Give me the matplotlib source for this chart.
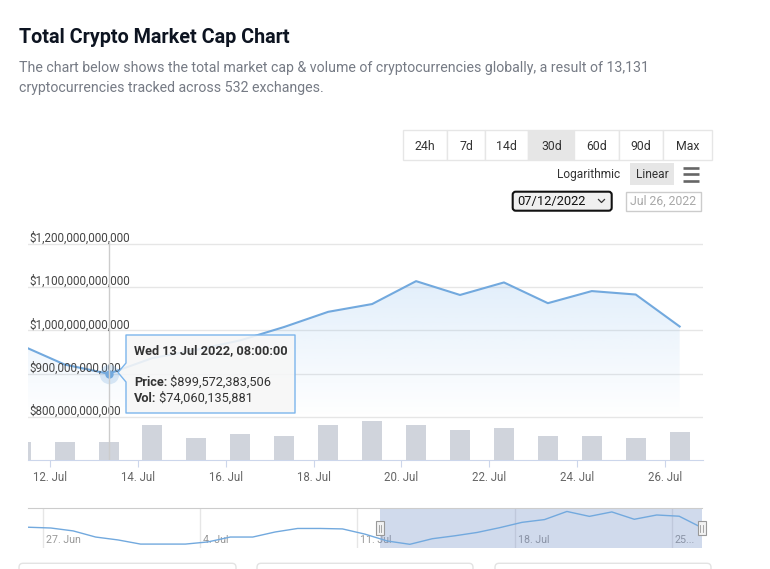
import numpy as np
import pandas as pd
import matplotlib
matplotlib.use('Agg')
import matplotlib.pyplot as plt
import matplotlib.dates as mdates
from matplotlib.colors import to_rgb
from matplotlib.patches import FancyBboxPatch, Rectangle, Polygon
from matplotlib import transforms

plt.rcParams['font.family'] = ['Roboto', 'DejaVu Sans']

# --- data (USD billions) ---
dates = pd.date_range('2022-07-11 08:00', periods=16, freq='D')
price = [966, 921, 899.572383506, 936, 955, 977, 1008, 1043, 1061, 1114,
         1082, 1111, 1063, 1091, 1083, 1009]
volume = [74, 74, 74.060135881, 143, 89, 106, 97, 143, 157, 142,
          123, 128, 97, 97, 89, 115]
nav_dates = pd.date_range('2022-06-26 08:00', periods=31, freq='D')
nav_early = [1011, 1006, 987, 947, 928, 901, 901, 901, 915, 947,
             947, 980, 1003, 1003, 1000]
y_ticks = [800, 900, 1000, 1100, 1200]
x_ticks = pd.date_range('2022-07-12', '2022-07-26', freq='2D')
nav_ticks = pd.date_range('2022-06-27', '2022-07-25', freq='7D')
nav_labels = ['27. Jun', '4. Jul', '11. Jul', '18. Jul', '25...']
ranges = ['24h', '7d', '14d', '30d', '60d', '90d', 'Max']
active_range = '30d'
hover = 2  # Wed 13 Jul
sel_start = pd.Timestamp('2022-07-12')

LINE = '#72a9de'
W, H = 770, 569


def rect(l, t, r, b):
    return [l / W, 1 - b / H, (r - l) / W, (b - t) / H]


fig = plt.figure(figsize=(W / 100, H / 100), dpi=100)

# --- main price / volume chart ---
x = mdates.date2num(dates)
ax = fig.add_axes(rect(28, 242, 703, 460))
ax.plot(x, price, color=LINE, lw=1.5, zorder=3, solid_joinstyle='round')
fill = ax.fill_between(x, price, 800, color='none', lw=0)
grad = np.zeros((100, 1, 4))
grad[..., :3] = to_rgb('#7cb5ec')
grad[:, 0, 3] = np.linspace(0.22, 0.0, 100)
im = ax.imshow(grad, extent=[x[0], x[-1], 800, max(price)], aspect='auto',
               origin='upper', zorder=1)
im.set_clip_path(fill.get_paths()[0], ax.transData)

ax.set_xlim(mdates.date2num(pd.Timestamp('2022-07-11 12:00')),
            mdates.date2num(pd.Timestamp('2022-07-26 20:45')))
ax.set_ylim(700, 1204.6)
ax.set_yticks(y_ticks)
ax.tick_params(axis='y', length=0, labelleft=False)
ax.grid(axis='y', color='#e6e6e6', lw=1)
ax.set_axisbelow(True)
for s in ['top', 'left', 'right']:
    ax.spines[s].set_visible(False)
ax.spines['bottom'].set_color('#ccd6eb')
ax.set_xticks(mdates.date2num(x_ticks))
ax.set_xticklabels([f'{d.day}. Jul' for d in x_ticks])
ax.tick_params(axis='x', length=5, width=0.8, color='#ccd6eb', labelcolor='#666666',
               labelsize=8.3, pad=3)

ylab_tr = transforms.offset_copy(ax.get_yaxis_transform(), fig=fig, x=1, y=2, units='dots')
for v in y_ticks:
    ax.text(0, v, f'${int(v * 1e9):,}', transform=ylab_tr, ha='left', va='baseline',
            fontsize=8.4, color='#444444', zorder=4)

ax2 = ax.twinx()
ax2.bar(x, volume, width=0.455, color='#d0d4dc', zorder=2)
ax2.set_ylim(0, 882)
ax2.axis('off')
ax2.axvline(x[hover], color='#cccccc', lw=1, zorder=5)

ax.plot(x[hover], price[hover], 'o', ms=14, color=LINE, alpha=0.25, mec='none', zorder=5)
ax.plot(x[hover], price[hover], 'o', ms=6, color=LINE, mec='none', zorder=6)

# --- navigator ---
navx = mdates.date2num(nav_dates)
nav_vals = nav_early + price
nav = fig.add_axes(rect(28.3, 507.7, 701.6, 548))
nav.plot(navx, nav_vals, color=LINE, lw=1, zorder=3)
nav.set_xlim(navx[0], navx[-1])
nav.set_ylim(875.4, 1138.6)
nav.set_xticks([])
nav.set_yticks([])
for s in ['bottom', 'left', 'right']:
    nav.spines[s].set_visible(False)
nav.spines['top'].set_color('#cccccc')
for t in nav_ticks:
    nav.axvline(mdates.date2num(t), color='#e6e6e6', lw=1, zorder=1)
lab_tr = transforms.offset_copy(nav.get_xaxis_transform(), fig=fig, x=3, units='dots')
for t, lbl in zip(nav_ticks, nav_labels):
    nav.text(mdates.date2num(t), 0.19, lbl, transform=lab_tr, ha='left', va='center',
             fontsize=7.7, color='#999999', zorder=2)
nav.axvspan(mdates.date2num(sel_start), navx[-1], color=(102 / 255, 133 / 255, 194 / 255, 0.3),
            lw=0, zorder=2)

# --- overlay (page UI) ---
ov = fig.add_axes([0, 0, 1, 1])
ov.set_xlim(0, W)
ov.set_ylim(H, 0)
ov.axis('off')
ov.set_zorder(10)
ov.patch.set_alpha(0)

ov.text(19, 42.7, 'Total Crypto Market Cap Chart', fontsize=14.2, fontweight='bold',
        color='#0d1421', va='baseline')
ov.text(19, 71.7, 'The chart below shows the total market cap & volume of cryptocurrencies '
        'globally, a result of 13,131', fontsize=10.2, color='#767b85', va='baseline')
ov.text(19, 91.7, 'cryptocurrencies tracked across 532 exchanges.', fontsize=10.2,
        color='#767b85', va='baseline')

# range buttons
edges = [402.7, 447.3, 484.7, 528.3, 574.3, 618.7, 663.3, 711.7]
for i, lbl in enumerate(ranges):
    l, r = edges[i], edges[i + 1]
    ov.add_patch(Rectangle((l, 130), r - l, 30, fc='#e6e6e6' if lbl == active_range else 'white',
                           ec='#e6e6e6', lw=1))
    ov.text((l + r) / 2, 146, lbl, ha='center', va='center', fontsize=8.8, color='#333333')

ov.text(620, 174.5, 'Logarithmic', ha='right', va='center', fontsize=8.6, color='#333333')
ov.add_patch(Rectangle((630, 162.7), 44, 22.3, fc='#e6e6e6', ec='none'))
ov.text(652, 174.5, 'Linear', ha='center', va='center', fontsize=8.6, color='#333333')
for yy in [167.5, 174, 180.5]:
    ov.plot([683, 699], [yy, yy], color='#666666', lw=1.9, solid_capstyle='butt')

ov.add_patch(FancyBboxPatch((512.7, 191.7), 99, 19, boxstyle='round,pad=0,rounding_size=3',
                            fc='#efefef', ec='#111111', lw=1.5))
ov.text(517, 201.5, '07/12/2022', ha='left', va='center', fontsize=9.3, color='#111111')
ov.plot([598.5, 601.5, 604.5], [199.5, 202.5, 199.5], color='#333333', lw=0.9)
ov.add_patch(Rectangle((626, 191.7), 74.7, 19.3, fc='white', ec='#cccccc', lw=1))
ov.text(663.3, 201.5, 'Jul 26, 2022', ha='center', va='center', fontsize=8.8, color='#a8a8a8')

# navigator handles
for hx in [mdates.date2num(sel_start), navx[-1]]:
    px = nav.transData.transform((hx, 0))[0]
    ov.add_patch(Rectangle((px - 4, 521), 8, 14, fc='#f2f2f2', ec='#999999', lw=0.8))
    for dx in [-1.2, 1.2]:
        ov.plot([px + dx, px + dx], [524.5, 531.5], color='#999999', lw=0.6)

# bottom cards
for l, r in [(19, 236), (257, 473), (495, 711)]:
    ov.add_patch(FancyBboxPatch((l, 563.3), r - l, 20, boxstyle='round,pad=0,rounding_size=4',
                                fc='white', ec='#e3e3e3', lw=1))

# tooltip
tip = Polygon([(126, 335), (295, 335), (295, 413), (126, 413), (126, 382), (118, 372.5),
               (126, 363)], closed=True, fc=(247 / 255, 247 / 255, 247 / 255, 0.88),
              ec='#7cb5ec', lw=1, joinstyle='round')
ov.add_patch(tip)
ov.text(134, 351, f"{dates[hover]:%a %d %b %Y, %H:%M:%S}", fontsize=9.2, fontweight='bold',
        color='#333333', va='center')
for yy, key, val in [(382.5, 'Price:', price[hover]), (398.5, 'Vol:', volume[hover])]:
    t1 = ov.text(134, yy, key, fontsize=9.2, fontweight='bold', color='#333333', va='center')
    ov.annotate(f' ${round(val * 1e9):,}', xy=(1, 0), xycoords=t1, va='bottom', ha='left',
                fontsize=9.2, color='#333333')

fig.savefig('out.png', dpi=100)
